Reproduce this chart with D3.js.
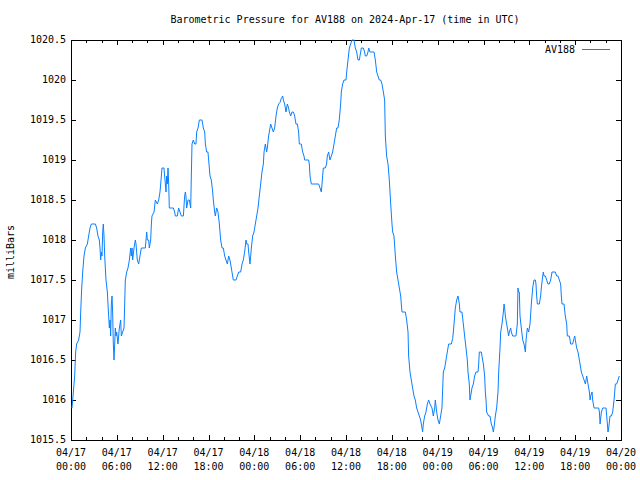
<!DOCTYPE html>
<html>
<head>
<meta charset="utf-8">
<script src="https://cdn.jsdelivr.net/npm/d3@7"></script>
<style>
  html, body { margin: 0; padding: 0; background: #fff; overflow: hidden; }
  svg { display: block; }
</style>
</head>
<body>
<div id="chart"></div>
<script>
// Hours since 2024-04-17 00:00 UTC
const hours = [
  0.13, 0.31, 0.48, 0.61, 0.74, 1.00, 1.18, 1.27, 1.40, 1.53, 1.70, 1.88, 2.14, 2.31, 2.49, 2.66,
  3.19, 3.36, 3.53, 3.71, 3.80, 3.88, 3.97, 4.06, 4.15, 4.23, 4.32, 4.41, 4.58, 4.76, 4.84, 4.93,
  5.02, 5.11, 5.19, 5.28, 5.37, 5.45, 5.54, 5.63, 5.72, 5.80, 5.89, 5.98, 6.15, 6.33, 6.50, 6.59,
  6.76, 6.94, 7.03, 7.11, 7.29, 7.46, 7.64, 7.81, 7.90, 7.99, 8.07, 8.25, 8.42, 8.51, 8.68, 8.86,
  9.03, 9.21, 9.73, 9.91, 9.99, 10.17, 10.25, 10.43, 10.52, 10.60, 10.87, 11.04, 11.30, 11.48, 11.65, 11.83,
  11.91, 12.17, 12.35, 12.44, 12.52, 12.61, 12.70, 12.79, 12.87, 13.40, 13.57, 13.66, 13.92, 14.09, 14.27, 14.44,
  14.71, 14.88, 14.97, 15.05, 15.14, 15.32, 15.49, 15.67, 15.75, 15.84, 16.01, 16.19, 16.36, 16.45, 16.63, 16.80,
  17.15, 17.32, 17.50, 17.59, 17.76, 17.93, 18.02, 18.20, 18.37, 18.55, 18.63, 18.81, 18.89, 19.07, 19.24, 19.42,
  19.59, 19.77, 19.94, 20.12, 20.29, 20.47, 20.64, 20.81, 20.99, 21.16, 21.25, 21.60, 21.77, 21.95, 22.21, 22.39,
  22.56, 22.73, 22.91, 23.00, 23.17, 23.26, 23.43, 23.61, 23.78, 23.96, 24.13, 24.31, 24.48, 24.65,
  24.83, 25.00, 25.18, 25.27, 25.44, 25.53, 25.61, 25.70, 25.87, 26.05, 26.14, 26.31, 26.49, 26.66, 26.84, 27.01,
  27.18, 27.36, 27.53, 27.71, 27.80, 27.97, 28.14, 28.32, 28.49, 28.58, 28.76, 28.93, 29.11, 29.28, 29.45, 29.63,
  29.80, 29.89, 30.06, 30.15, 30.33, 30.50, 30.59, 31.11, 31.20, 31.29, 31.46, 32.42, 32.60, 32.77, 32.86, 32.94,
  33.03, 33.29, 33.46, 33.55, 33.73, 33.81, 33.90, 34.08, 34.25, 34.43, 34.60, 34.78, 34.95, 35.12, 35.21, 35.30,
  35.39, 35.56, 35.74, 36.00, 36.09, 36.26, 36.44, 36.61, 36.78, 36.96, 37.04, 37.22, 37.40, 37.57, 37.75, 37.83,
  38.01, 38.27, 38.44, 38.53, 38.71, 38.88, 38.97, 39.14, 39.67, 39.84, 40.02, 40.19, 40.36, 40.54, 40.71, 40.89,
  41.06, 41.15, 41.32, 41.50, 41.67, 41.85, 42.02, 42.11, 42.28, 42.46, 42.63, 42.81, 42.98, 43.16, 43.24, 43.33,
  43.77, 43.94, 44.12, 44.20, 44.38, 44.55, 44.72, 44.90, 45.07, 45.25, 45.42, 45.60, 45.77, 45.95, 46.03, 46.12,
  46.30, 46.47, 46.65, 46.82, 47.00, 47.26, 47.43, 47.61, 47.69, 47.87, 48.04, 48.22, 48.39, 48.56, 48.74, 48.92,
  49.09, 49.26, 49.44, 49.79, 49.97, 50.05, 50.23, 50.31, 50.49, 50.66, 50.84, 50.92, 51.18, 51.36, 51.53, 51.71,
  51.88, 51.97, 52.14, 52.23, 52.41, 52.49, 52.67, 52.84, 53.02, 53.28, 53.37, 53.45, 53.71, 53.80, 53.98, 54.15,
  54.24, 54.33, 54.41, 54.67, 54.85, 55.02, 55.20, 55.29, 55.37, 55.55, 55.72, 55.90, 55.99, 56.16, 56.25, 56.42,
  56.60, 56.69, 56.77, 56.86, 57.03, 57.21, 57.29, 57.38, 57.56, 57.64, 57.82, 58.25, 58.43, 58.51, 58.60, 58.69,
  58.78, 58.95, 59.13, 59.30, 59.48, 59.57, 59.74, 59.91, 60.09, 60.26, 60.44, 60.61, 60.79, 60.87, 60.96, 61.05,
  61.31, 61.48, 61.57, 61.75, 61.83, 61.92, 62.09, 62.27, 62.44, 62.61, 62.79, 62.97, 63.40, 63.58, 63.75, 63.93,
  64.10, 64.19, 64.28, 64.54, 64.71, 64.89, 64.97, 65.24, 65.41, 65.67, 65.85, 65.94, 66.02, 66.20, 66.37, 66.55,
  66.64, 66.81, 66.99, 67.16, 67.34, 67.51, 67.68, 67.86, 67.95, 68.03, 68.21, 68.29, 68.47, 69.08, 69.17, 69.26,
  69.43, 69.61, 69.87, 70.04, 70.13, 70.22, 70.30, 70.39, 70.56, 70.74, 70.91, 71.09, 71.26, 71.43, 71.61, 71.78
]

// Pressure in millibars, same order as hours
const pressure = [
  1015.9, 1016.1, 1016.3, 1016.6, 1016.7, 1016.75, 1016.85, 1017.1, 1017.4, 1017.6, 1017.8, 1017.9, 1017.95, 1018.05, 1018.15, 1018.2,
  1018.2, 1018.15, 1018.05, 1018.0, 1017.9, 1017.75, 1017.85, 1017.8, 1018.1, 1018.2, 1018.05, 1017.8, 1017.5, 1017.35, 1017.2, 1017.05,
  1016.9, 1017.0, 1016.8, 1017.2, 1017.3, 1017.1, 1016.7, 1016.5, 1016.7, 1016.9, 1016.8, 1016.85, 1016.7, 1016.9, 1017.0, 1016.8,
  1016.85, 1016.9, 1017.2, 1017.5, 1017.6, 1017.65, 1017.75, 1017.9, 1017.8, 1017.9, 1017.75, 1017.9, 1018.0, 1017.95, 1017.75, 1017.7,
  1017.8, 1017.9, 1017.9, 1018.1, 1018.0, 1018.0, 1017.9, 1018.0, 1018.2, 1018.3, 1018.35, 1018.5, 1018.45, 1018.5, 1018.6, 1018.8,
  1018.9, 1018.9, 1018.7, 1018.6, 1018.8, 1018.7, 1018.9, 1018.7, 1018.4, 1018.4, 1018.35, 1018.3, 1018.3, 1018.4, 1018.35, 1018.3,
  1018.3, 1018.55, 1018.6, 1018.55, 1018.4, 1018.5, 1018.5, 1018.4, 1018.8, 1019.2, 1019.25, 1019.2, 1019.2, 1019.35, 1019.4, 1019.5,
  1019.5, 1019.4, 1019.35, 1019.2, 1019.1, 1019.1, 1019.0, 1018.8, 1018.75, 1018.6, 1018.5, 1018.35, 1018.3, 1018.4, 1018.35, 1018.2,
  1018.0, 1017.9, 1017.9, 1017.8, 1017.75, 1017.7, 1017.8, 1017.75, 1017.65, 1017.55, 1017.5, 1017.5, 1017.55, 1017.6, 1017.6, 1017.7,
  1017.75, 1017.85, 1018.0, 1017.95, 1017.95, 1017.85, 1017.7, 1017.9, 1018.05, 1018.1, 1018.2, 1018.3, 1018.4, 1018.55,
  1018.7, 1018.85, 1018.95, 1019.1, 1019.2, 1019.15, 1019.1, 1019.15, 1019.3, 1019.4, 1019.45, 1019.4, 1019.35, 1019.4, 1019.55, 1019.65,
  1019.7, 1019.72, 1019.77, 1019.8, 1019.75, 1019.7, 1019.6, 1019.7, 1019.65, 1019.6, 1019.55, 1019.6, 1019.6, 1019.55, 1019.45, 1019.45,
  1019.35, 1019.2, 1019.2, 1019.2, 1019.1, 1019.05, 1019.0, 1019.0, 1018.95, 1018.8, 1018.7, 1018.7, 1018.65, 1018.6, 1018.7, 1018.8,
  1018.9, 1018.9, 1018.95, 1019.05, 1019.1, 1019.05, 1019.0, 1019.05, 1019.1, 1019.2, 1019.3, 1019.4, 1019.4, 1019.5, 1019.6, 1019.7,
  1019.85, 1019.95, 1020.0, 1020.0, 1020.1, 1020.25, 1020.4, 1020.45, 1020.5, 1020.5, 1020.5, 1020.4, 1020.35, 1020.25, 1020.25, 1020.3,
  1020.4, 1020.4, 1020.35, 1020.3, 1020.3, 1020.35, 1020.4, 1020.35, 1020.35, 1020.25, 1020.1, 1020.05, 1020.0, 1020.0, 1019.95, 1019.85,
  1019.75, 1019.3, 1019.05, 1018.95, 1018.75, 1018.45, 1018.2, 1018.1, 1018.05, 1017.8, 1017.6, 1017.5, 1017.4, 1017.3, 1017.2, 1017.1,
  1017.1, 1017.0, 1016.85, 1016.55, 1016.35, 1016.25, 1016.15, 1016.05, 1016.0, 1015.9, 1015.85, 1015.8, 1015.75, 1015.65, 1015.6, 1015.7,
  1015.8, 1015.85, 1015.95, 1016.0, 1015.95, 1015.9, 1015.8, 1015.9, 1016.0, 1015.85, 1015.75, 1015.7, 1015.8, 1015.9, 1016.35, 1016.4,
  1016.5, 1016.6, 1016.7, 1016.7, 1016.77, 1016.85, 1017.05, 1017.15, 1017.25, 1017.3, 1017.2, 1017.1, 1017.1, 1016.95, 1016.8, 1016.65,
  1016.5, 1016.35, 1016.2, 1016.0, 1016.1, 1016.15, 1016.2, 1016.3, 1016.35, 1016.35, 1016.45, 1016.6, 1016.6, 1016.55, 1016.45, 1016.3,
  1016.1, 1016.0, 1015.85, 1015.8, 1015.8, 1015.7, 1015.65, 1015.6, 1015.65, 1015.8, 1015.9, 1016.1, 1016.35, 1016.65, 1016.85, 1016.95,
  1017.1, 1017.2, 1017.15, 1017.05, 1016.95, 1016.85, 1016.8, 1016.85, 1016.9, 1016.85, 1016.8, 1016.8, 1016.95, 1017.4, 1017.35, 1017.35,
  1017.05, 1016.9, 1016.75, 1016.7, 1016.6, 1016.75, 1016.9, 1016.85, 1016.95, 1017.2, 1017.4, 1017.5, 1017.5, 1017.45, 1017.3, 1017.2,
  1017.2, 1017.3, 1017.4, 1017.55, 1017.6, 1017.55, 1017.55, 1017.5, 1017.45, 1017.45, 1017.5, 1017.6, 1017.6, 1017.55, 1017.55, 1017.5,
  1017.45, 1017.3, 1017.2, 1017.2, 1017.05, 1016.95, 1016.8, 1016.8, 1016.7, 1016.7, 1016.77, 1016.8, 1016.75, 1016.65, 1016.6, 1016.5,
  1016.45, 1016.35, 1016.3, 1016.25, 1016.2, 1016.3, 1016.2, 1016.1, 1016.0, 1016.05, 1016.1, 1016.0, 1015.9, 1015.9, 1015.85, 1015.7,
  1015.85, 1015.9, 1015.9, 1015.9, 1015.8, 1015.7, 1015.6, 1015.65, 1015.8, 1015.8, 1015.85, 1016.0, 1016.2, 1016.2, 1016.25, 1016.3
]

// Axis ticks
const xTickHours = [0, 6, 12, 18, 24, 30, 36, 42, 48, 54, 60, 66, 72]
const xTickDays = ['04/17', '04/17', '04/17', '04/17', '04/18', '04/18', '04/18', '04/18', '04/19', '04/19', '04/19', '04/19', '04/20']
const xTickTimes = ['00:00', '06:00', '12:00', '18:00', '00:00', '06:00', '12:00', '18:00', '00:00', '06:00', '12:00', '18:00', '00:00']
const xMinorHours = d3.range(0, 73, 2).filter(h => h % 6 !== 0)
const yTickValues = [1015.5, 1016, 1016.5, 1017, 1017.5, 1018, 1018.5, 1019, 1019.5, 1020, 1020.5]

const seriesName = 'AV188'
const title = 'Barometric Pressure for AV188 on 2024-Apr-17 (time in UTC)'
const yLabel = 'milliBars'
const lineColor = '#0a80ff'
const fontFamily = '"DejaVu Sans Mono", "Liberation Mono", monospace'

// Dimensions
const width = 640
const height = 480
const margin = { top: 40, right: 19, bottom: 40, left: 71 }
const innerWidth = width - margin.left - margin.right
const innerHeight = height - margin.top - margin.bottom

const svg = d3.select('#chart')
  .append('svg')
  .attr('width', width)
  .attr('height', height)
  .attr('viewBox', `0 0 ${width} ${height}`)
  .attr('font-family', fontFamily)
  .attr('font-size', 10)

const g = svg.append('g')
  .attr('transform', `translate(${margin.left}, ${margin.top})`)

const xScale = d3.scaleLinear().domain([0, 72]).range([0, innerWidth])
const yScale = d3.scaleLinear().domain([1015.5, 1020.5]).range([innerHeight, 0])

// Ticks point inward, like gnuplot; labels are drawn separately
const tickOnly = sel => {
  sel.select('.domain').remove()
  sel.attr('font-family', null).attr('font-size', null)
  sel.selectAll('line').attr('stroke', '#000').attr('shape-rendering', 'crispEdges')
  sel.selectAll('text').remove()
}

// Bottom ticks (major + minor)
g.append('g')
  .attr('transform', `translate(0, ${innerHeight})`)
  .call(d3.axisBottom(xScale).tickValues(xTickHours).tickSize(-5))
  .call(tickOnly)
g.append('g')
  .attr('transform', `translate(0, ${innerHeight})`)
  .call(d3.axisBottom(xScale).tickValues(xMinorHours).tickSize(-3))
  .call(tickOnly)

// Two-line date/time labels under each major tick
const xLabels = g.append('g').attr('text-anchor', 'middle')
xLabels.selectAll('.day')
  .data(xTickHours)
  .join('text')
  .attr('class', 'day')
  .attr('x', d => xScale(d))
  .attr('y', innerHeight + 16)
  .text((d, i) => xTickDays[i])
xLabels.selectAll('.time')
  .data(xTickHours)
  .join('text')
  .attr('class', 'time')
  .attr('x', d => xScale(d))
  .attr('y', innerHeight + 30)
  .text((d, i) => xTickTimes[i])

// Top mirrored ticks
g.append('g')
  .call(d3.axisTop(xScale).tickValues(xTickHours).tickSize(-5))
  .call(tickOnly)
g.append('g')
  .call(d3.axisTop(xScale).tickValues(xMinorHours).tickSize(-3))
  .call(tickOnly)

// Left ticks and labels
g.append('g')
  .call(d3.axisLeft(yScale).tickValues(yTickValues).tickSize(-5))
  .call(tickOnly)
g.append('g')
  .attr('text-anchor', 'end')
  .selectAll('text')
  .data(yTickValues)
  .join('text')
  .attr('x', -5)
  .attr('y', d => yScale(d))
  .attr('dy', '0.32em')
  .text(d3.format(''))

// Right mirrored ticks
g.append('g')
  .attr('transform', `translate(${innerWidth}, 0)`)
  .call(d3.axisRight(yScale).tickValues(yTickValues).tickSize(-5))
  .call(tickOnly)

// Border
g.append('rect')
  .attr('width', innerWidth)
  .attr('height', innerHeight)
  .attr('fill', 'none')
  .attr('stroke', '#000')
  .attr('shape-rendering', 'crispEdges')

// Pressure line
const data = hours.map((h, i) => ({ h, v: pressure[i] }))
const pressureLine = d3.line()
  .x(d => xScale(d.h))
  .y(d => yScale(d.v))

g.append('path')
  .datum(data)
  .attr('fill', 'none')
  .attr('stroke', lineColor)
  .attr('stroke-width', 1)
  .attr('d', pressureLine)

// Title
svg.append('text')
  .attr('x', 345)
  .attr('y', 23)
  .attr('text-anchor', 'middle')
  .text(title)

// Y label
svg.append('text')
  .attr('transform', 'rotate(-90)')
  .attr('x', -252)
  .attr('y', 14)
  .attr('text-anchor', 'middle')
  .text(yLabel)

// Legend
svg.append('text')
  .attr('x', 575)
  .attr('y', 53)
  .attr('text-anchor', 'end')
  .text(seriesName)
svg.append('line')
  .attr('x1', 582)
  .attr('x2', 610)
  .attr('y1', 49.5)
  .attr('y2', 49.5)
  .attr('stroke', lineColor)
</script>
</body>
</html>
